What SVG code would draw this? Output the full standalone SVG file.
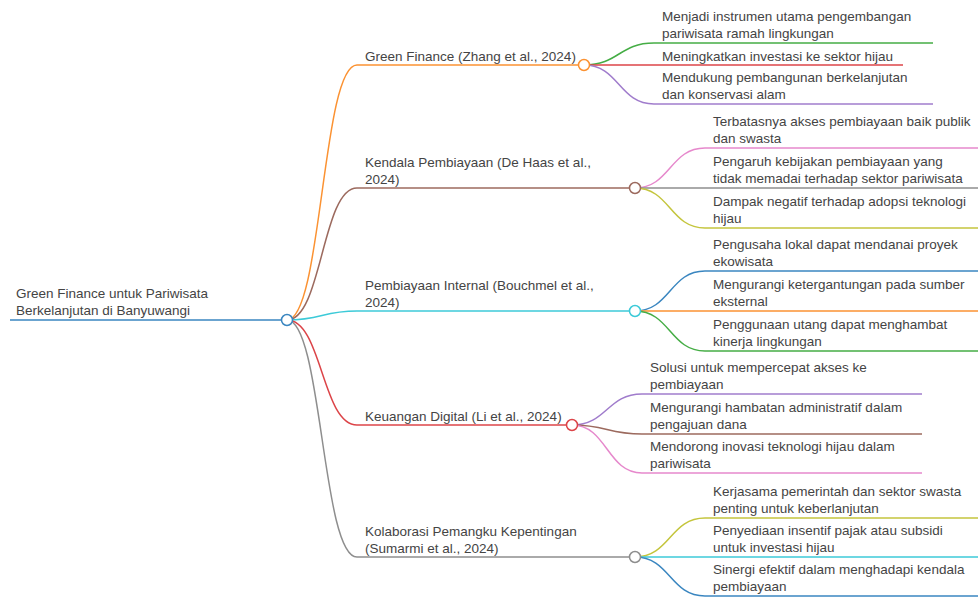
<svg xmlns="http://www.w3.org/2000/svg" width="978" height="597" viewBox="0 0 978 597">
<defs>
<style>
text{font-family:"Liberation Sans",Arial,sans-serif;font-size:13.5px;fill:#444}
.l{fill:none;stroke-width:1.5}
.u{fill:none;stroke-width:1.5}
.c{fill:#fff;stroke-width:1.5}
.blue{stroke:#3a86c0}.orange{stroke:#fb9232}.green{stroke:#45ad45}.red{stroke:#dc4448}
.purple{stroke:#a07ccc}.brown{stroke:#9c6a5e}.pink{stroke:#e688cc}.gray{stroke:#8e8e8e}
.olive{stroke:#c4c53c}.cyan{stroke:#3ccad8}
</style>
</defs>
<rect width="978" height="597" fill="#fff"/>
<g id="connectors">
<path class="l orange" d="M287,320 C322,320 322,65 357,65"/>
<path class="l brown" d="M287,320 C322,320 322,188 357,188"/>
<path class="l cyan" d="M287,320 C322,320 322,311 357,311"/>
<path class="l red" d="M287,320 C322,320 322,425 357,425"/>
<path class="l gray" d="M287,320 C322,320 322,557 357,557"/>
<path class="l green" d="M584,65 C619,65 619,43 654,43"/>
<path class="l red" d="M584,65 C619,65 619,65 654,65"/>
<path class="l purple" d="M584,65 C619,65 619,104 654,104"/>
<path class="l pink" d="M635,188 C670,188 670,148 705,148"/>
<path class="l gray" d="M635,188 C670,188 670,188 705,188"/>
<path class="l olive" d="M635,188 C670,188 670,228 705,228"/>
<path class="l blue" d="M635,311 C670,311 670,271 705,271"/>
<path class="l orange" d="M635,311 C670,311 670,311 705,311"/>
<path class="l green" d="M635,311 C670,311 670,351 705,351"/>
<path class="l purple" d="M572,425 C607,425 607,394 642,394"/>
<path class="l brown" d="M572,425 C607,425 607,434 642,434"/>
<path class="l pink" d="M572,425 C607,425 607,473 642,473"/>
<path class="l olive" d="M635,557 C670,557 670,518 705,518"/>
<path class="l cyan" d="M635,557 C670,557 670,557 705,557"/>
<path class="l blue" d="M635,557 C670,557 670,596 705,596"/>
</g>
<g id="root">
<path class="u blue" d="M10,320 H287" stroke-width="2"/>
<circle class="c blue" cx="287" cy="320" r="5.5"/>
<text x="16" y="298">Green Finance untuk Pariwisata<tspan x="16" y="315">Berkelanjutan di Banyuwangi</tspan></text>
</g>
<g id="b1">
<path class="u orange" d="M357,65 H584"/>
<circle class="c orange" cx="584" cy="65" r="5.5"/>
<text x="365" y="61">Green Finance (Zhang et al., 2024)</text>
</g>
<g id="b1l1"><path class="u green" d="M654,43 H933"/><text x="662" y="21">Menjadi instrumen utama pengembangan<tspan x="662" y="38">pariwisata ramah lingkungan</tspan></text></g>
<g id="b1l2"><path class="u red" d="M654,65 H903"/><text x="662" y="61">Meningkatkan investasi ke sektor hijau</text></g>
<g id="b1l3"><path class="u purple" d="M654,104 H933"/><text x="662" y="82">Mendukung pembangunan berkelanjutan<tspan x="662" y="99">dan konservasi alam</tspan></text></g>
<g id="b2">
<path class="u brown" d="M357,188 H635"/>
<circle class="c brown" cx="635" cy="188" r="5.5"/>
<text x="365" y="167">Kendala Pembiayaan (De Haas et al.,<tspan x="365" y="184">2024)</tspan></text>
</g>
<g id="b2l1"><path class="u pink" d="M705,148 H985"/><text x="713" y="126">Terbatasnya akses pembiayaan baik publik<tspan x="713" y="143">dan swasta</tspan></text></g>
<g id="b2l2"><path class="u gray" d="M705,188 H985"/><text x="713" y="166">Pengaruh kebijakan pembiayaan yang<tspan x="713" y="183">tidak memadai terhadap sektor pariwisata</tspan></text></g>
<g id="b2l3"><path class="u olive" d="M705,228 H985"/><text x="713" y="206">Dampak negatif terhadap adopsi teknologi<tspan x="713" y="223">hijau</tspan></text></g>
<g id="b3">
<path class="u cyan" d="M357,311 H635"/>
<circle class="c cyan" cx="635" cy="311" r="5.5"/>
<text x="365" y="290">Pembiayaan Internal (Bouchmel et al.,<tspan x="365" y="307">2024)</tspan></text>
</g>
<g id="b3l1"><path class="u blue" d="M705,271 H985"/><text x="713" y="249">Pengusaha lokal dapat mendanai proyek<tspan x="713" y="266">ekowisata</tspan></text></g>
<g id="b3l2"><path class="u orange" d="M705,311 H985"/><text x="713" y="289">Mengurangi ketergantungan pada sumber<tspan x="713" y="306">eksternal</tspan></text></g>
<g id="b3l3"><path class="u green" d="M705,351 H985"/><text x="713" y="329">Penggunaan utang dapat menghambat<tspan x="713" y="346">kinerja lingkungan</tspan></text></g>
<g id="b4">
<path class="u red" d="M357,425 H572"/>
<circle class="c red" cx="572" cy="425" r="5.5"/>
<text x="365" y="421">Keuangan Digital (Li et al., 2024)</text>
</g>
<g id="b4l1"><path class="u purple" d="M642,394 H922"/><text x="650" y="372">Solusi untuk mempercepat akses ke<tspan x="650" y="389">pembiayaan</tspan></text></g>
<g id="b4l2"><path class="u brown" d="M642,434 H922"/><text x="650" y="412">Mengurangi hambatan administratif dalam<tspan x="650" y="429">pengajuan dana</tspan></text></g>
<g id="b4l3"><path class="u pink" d="M642,473 H922"/><text x="650" y="451">Mendorong inovasi teknologi hijau dalam<tspan x="650" y="468">pariwisata</tspan></text></g>
<g id="b5">
<path class="u gray" d="M357,557 H635"/>
<circle class="c gray" cx="635" cy="557" r="5.5"/>
<text x="365" y="536">Kolaborasi Pemangku Kepentingan<tspan x="365" y="553">(Sumarmi et al., 2024)</tspan></text>
</g>
<g id="b5l1"><path class="u olive" d="M705,518 H985"/><text x="713" y="496">Kerjasama pemerintah dan sektor swasta<tspan x="713" y="513">penting untuk keberlanjutan</tspan></text></g>
<g id="b5l2"><path class="u cyan" d="M705,557 H985"/><text x="713" y="535">Penyediaan insentif pajak atau subsidi<tspan x="713" y="552">untuk investasi hijau</tspan></text></g>
<g id="b5l3"><path class="u blue" d="M705,596 H985"/><text x="713" y="574">Sinergi efektif dalam menghadapi kendala<tspan x="713" y="591">pembiayaan</tspan></text></g>
</svg>
